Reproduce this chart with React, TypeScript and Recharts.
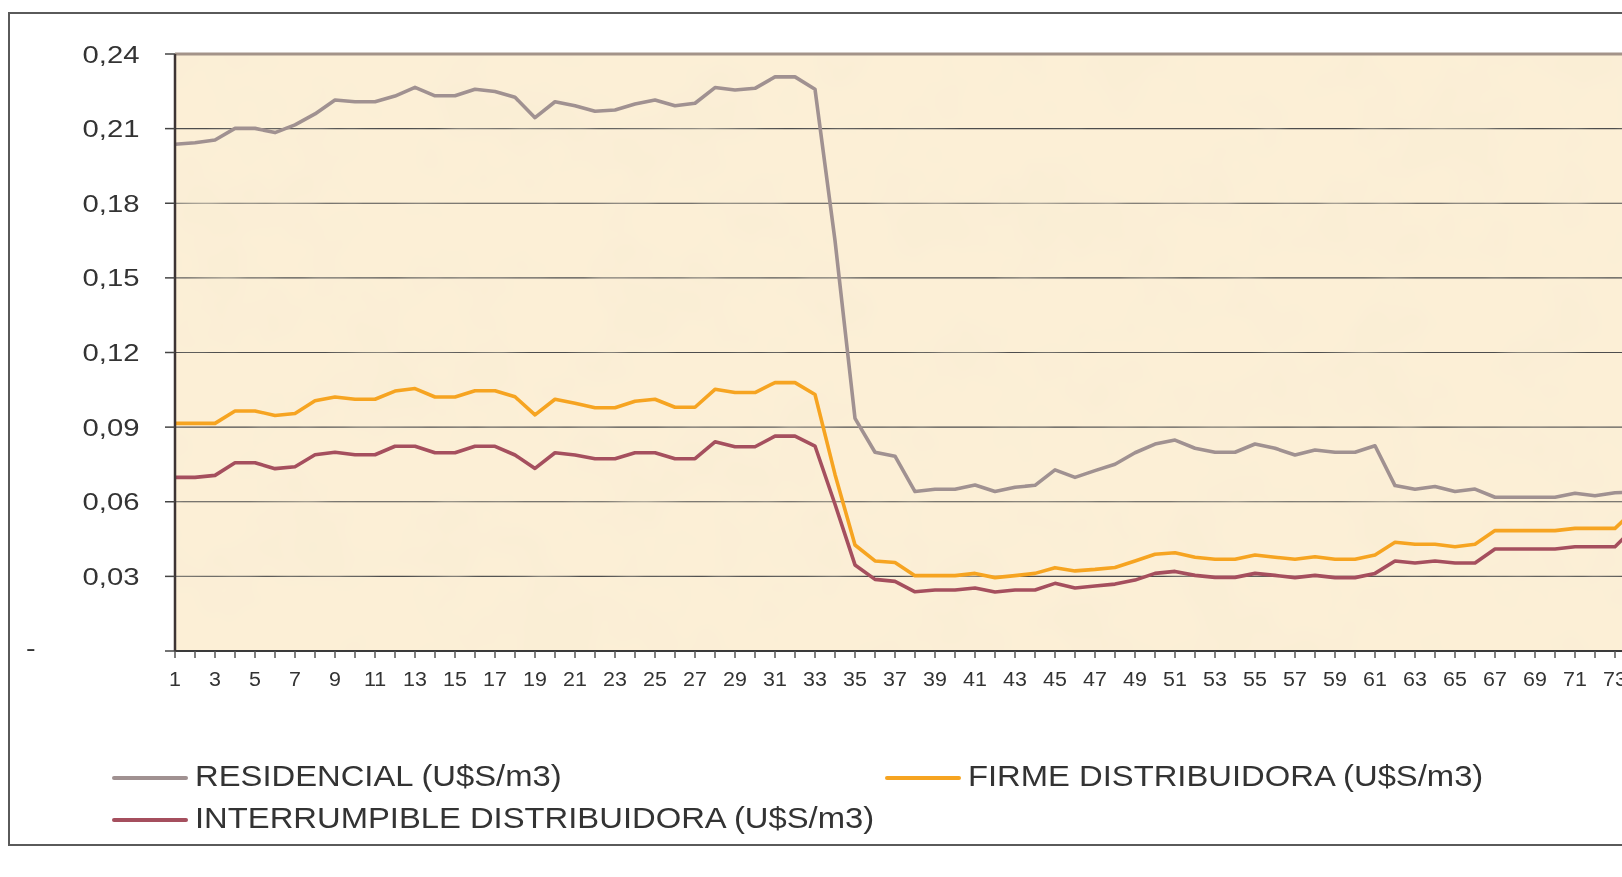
import React from 'react';
import { LineChart, Line, XAxis, YAxis, CartesianGrid, ReferenceLine, ReferenceArea } from 'recharts';

// periods on the x axis (the chart is cut off on the right after 73)
const periods = [
  '1', '2', '3', '4', '5', '6', '7', '8', '9', '10',
  '11', '12', '13', '14', '15', '16', '17', '18', '19', '20',
  '21', '22', '23', '24', '25', '26', '27', '28', '29', '30',
  '31', '32', '33', '34', '35', '36', '37', '38', '39', '40',
  '41', '42', '43', '44', '45', '46', '47', '48', '49', '50',
  '51', '52', '53', '54', '55', '56', '57', '58', '59', '60',
  '61', '62', '63', '64', '65', '66', '67', '68', '69', '70',
  '71', '72', '73', '74',
];

const residencial = [
  0.2037, 0.2043, 0.2054, 0.2101, 0.2101, 0.2084, 0.2115, 0.2159, 0.2215, 0.2208,
  0.2208, 0.2231, 0.2266, 0.2232, 0.2232, 0.2258, 0.2249, 0.2226, 0.2144, 0.2208,
  0.2192, 0.217, 0.2175, 0.2199, 0.2215, 0.2192, 0.2202, 0.2265, 0.2255, 0.2262,
  0.2308, 0.2308, 0.2258, 0.165, 0.0935, 0.0799, 0.0783, 0.0641, 0.065, 0.065,
  0.0667, 0.0641, 0.0658, 0.0666, 0.0728, 0.0698, 0.0725, 0.0751, 0.0797, 0.0832,
  0.0848, 0.0815, 0.0799, 0.0799, 0.0832, 0.0815, 0.0788, 0.0808, 0.0799, 0.0799,
  0.0825, 0.0665, 0.065, 0.0661, 0.0641, 0.0651, 0.0618, 0.0618, 0.0618, 0.0618,
  0.0634, 0.0624, 0.0636, 0.064,
];

const firme = [
  0.0915, 0.0915, 0.0915, 0.0965, 0.0965, 0.0947, 0.0955, 0.1006, 0.1021, 0.1012,
  0.1012, 0.1045, 0.1055, 0.1021, 0.1021, 0.1046, 0.1046, 0.1022, 0.0949, 0.1012,
  0.0996, 0.0978, 0.0978, 0.1004, 0.1012, 0.098, 0.098, 0.1052, 0.1039, 0.1039,
  0.1079, 0.1079, 0.1031, 0.071, 0.0426, 0.0362, 0.0356, 0.0303, 0.0303, 0.0303,
  0.0312, 0.0295, 0.0303, 0.0312, 0.0335, 0.0322, 0.0328, 0.0336, 0.0362, 0.0389,
  0.0395, 0.0377, 0.0369, 0.0369, 0.0386, 0.0377, 0.0369, 0.0379, 0.0369, 0.0369,
  0.0386, 0.0437, 0.0429, 0.0429, 0.0419, 0.0429, 0.0484, 0.0484, 0.0484, 0.0484,
  0.0493, 0.0493, 0.0493, 0.057,
];

const interrumpible = [
  0.0698, 0.0698, 0.0706, 0.0757, 0.0757, 0.0733, 0.0741, 0.0789, 0.0799, 0.0789,
  0.0789, 0.0823, 0.0823, 0.0797, 0.0797, 0.0823, 0.0823, 0.0788, 0.0734, 0.0797,
  0.0788, 0.0773, 0.0773, 0.0797, 0.0797, 0.0773, 0.0773, 0.0841, 0.0821, 0.0821,
  0.0864, 0.0864, 0.0824, 0.059, 0.0346, 0.0288, 0.028, 0.0238, 0.0245, 0.0245,
  0.0253, 0.0237, 0.0245, 0.0245, 0.0272, 0.0253, 0.0261, 0.0269, 0.0285, 0.0312,
  0.032, 0.0304, 0.0296, 0.0296, 0.0312, 0.0304, 0.0295, 0.0304, 0.0295, 0.0295,
  0.0312, 0.0362, 0.0354, 0.0362, 0.0354, 0.0354, 0.041, 0.041, 0.041, 0.041,
  0.0419, 0.0419, 0.0419, 0.05,
];

const yTicks = [0, 0.03, 0.06, 0.09, 0.12, 0.15, 0.18, 0.21, 0.24];
const yTickLabels = ['-', '0,03', '0,06', '0,09', '0,12', '0,15', '0,18', '0,21', '0,24'];

const series = [
  { key: 'residencial', name: 'RESIDENCIAL (U$S/m3)', color: '#a09191' },
  { key: 'firme', name: 'FIRME DISTRIBUIDORA (U$S/m3)', color: '#f6a421' },
  { key: 'interrumpible', name: 'INTERRUMPIBLE DISTRIBUIDORA (U$S/m3)', color: '#a54f5e' },
];

const data = periods.map((p, i) => ({
  period: p,
  residencial: residencial[i],
  firme: firme[i],
  interrumpible: interrumpible[i],
}));

const FONT = '"Liberation Sans", Arial, Helvetica, sans-serif';
const TEXT = '#333333';

const YTick = (props: any) => {
  const { x, y, payload } = props;
  const idx = yTicks.findIndex((t) => Math.abs(t - payload.value) < 1e-9);
  const label = yTickLabels[idx] ?? '';
  if (idx === 0) {
    return (
      <text transform={`translate(18, ${y + 5}) scale(1.2, 1)`} fontSize={24} fontFamily={FONT} fill={TEXT}>
        {label}
      </text>
    );
  }
  return (
    <text
      transform={`translate(${x - 23.5}, ${y + 8.6}) scale(1.22, 1)`}
      textAnchor="end"
      fontSize={24}
      fontFamily={FONT}
      fill={TEXT}
    >
      {label}
    </text>
  );
};

const XTick = (props: any) => {
  const { x, y, payload } = props;
  const n = Number(payload.value);
  if (n % 2 === 0) return null;
  return (
    <text
      transform={`translate(${x}, ${y + 25.5}) scale(1.1, 1)`}
      textAnchor="middle"
      fontSize={19.5}
      fontFamily={FONT}
      fill={TEXT}
    >
      {payload.value}
    </text>
  );
};

// parchment look of the plot area
const Paper = (p: any) => (
  <rect x={p.x} y={p.y} width={p.width} height={p.height} filter="url(#mottle)" />
);

const legendPos = [
  { left: 104, top: 751 },
  { left: 877, top: 751 },
  { left: 104, top: 793 },
];

const App = () => {
  return (
    <div style={{ position: 'fixed', left: 8, top: 8, width: 1614, height: 850, overflow: 'hidden' }}>
      <div
        style={{
          position: 'absolute',
          left: 0,
          top: 4,
          width: 1700,
          height: 834,
          boxSizing: 'border-box',
          border: '2px solid #5a5a5a',
        }}
      />
      <div style={{ position: 'absolute', left: 0, top: 0 }}>
        <LineChart
          width={1640}
          height={700}
          data={data}
          margin={{ top: 46, right: 13, bottom: 0, left: 7 }}
        >
          <defs>
            <filter id="mottle" x="0" y="0" width="1" height="1">
              <feTurbulence type="fractalNoise" baseFrequency="0.012" numOctaves={3} seed={7} />
              <feColorMatrix
                type="matrix"
                values="0 0 0 0 0.93  0 0 0 0 0.84  0 0 0 0 0.66  0 0 0 1.1 -0.45"
              />
            </filter>
          </defs>
          <CartesianGrid vertical={false} stroke="#4d4d4d" strokeWidth={1.2} fill="#fcefd6" fillOpacity={1} />
          <ReferenceArea y1={0} y2={0.24} shape={<Paper />} ifOverflow="extendDomain" />
          <XAxis
            dataKey="period"
            interval={0}
            tickSize={7}
            tick={<XTick />}
            tickLine={{ stroke: '#555', strokeWidth: 1.5 }}
            axisLine={{ stroke: '#3a3a3a', strokeWidth: 2 }}
            height={57}
            padding={{ left: 0, right: 0 }}
          />
          <YAxis
            domain={[0, 0.24]}
            ticks={yTicks}
            interval={0}
            width={160}
            tickSize={10}
            tick={<YTick />}
            tickLine={{ stroke: '#444', strokeWidth: 1.5 }}
            axisLine={{ stroke: '#3d3434', strokeWidth: 2.5 }}
          />
          <ReferenceLine y={0.24} stroke="#a39389" strokeWidth={3} />
          {series.map((s) => (
            <Line
              key={s.key}
              type="linear"
              dataKey={s.key}
              name={s.name}
              stroke={s.color}
              strokeWidth={3.6}
              strokeLinejoin="round"
              dot={false}
              activeDot={false}
              isAnimationActive={false}
            />
          ))}
        </LineChart>
      </div>
      {series.map((s, i) => (
        <div
          key={s.key}
          style={{
            position: 'absolute',
            left: legendPos[i].left,
            top: legendPos[i].top,
            height: 34,
            display: 'flex',
            alignItems: 'center',
            fontFamily: FONT,
            whiteSpace: 'nowrap',
          }}
        >
          <span
            style={{
              display: 'inline-block',
              width: 76,
              height: 4,
              borderRadius: 2,
              background: s.color,
              marginTop: 4,
            }}
          />
          <span
            style={{
              display: 'inline-block',
              marginLeft: 7,
              fontSize: 29,
              color: TEXT,
              transform: 'scaleX(1.13)',
              transformOrigin: 'left center',
            }}
          >
            {s.name}
          </span>
        </div>
      ))}
    </div>
  );
};

export default App;
